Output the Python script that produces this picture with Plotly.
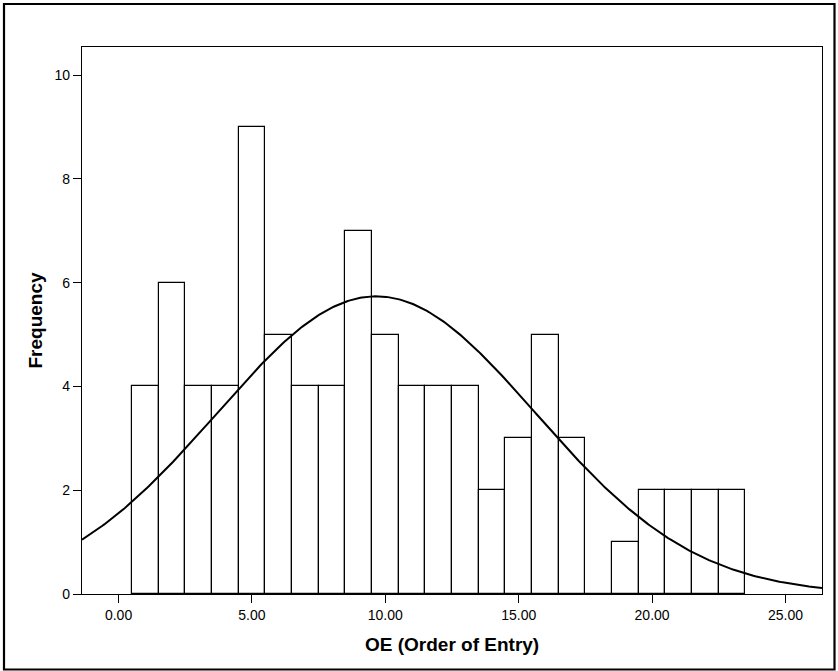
import numpy as np
import plotly.graph_objects as go

# Histogram data (bin centers, width 1)
bin_centers = list(range(1, 24))
counts = [4, 6, 4, 4, 9, 5, 4, 4, 7, 5, 4, 4, 4, 2, 3, 5, 3, 0, 1, 2, 2, 2, 2]
x_tick_vals = [0, 5, 10, 15, 20, 25]
x_tick_text = ["0.00", "5.00", "10.00", "15.00", "20.00", "25.00"]
y_tick_vals = [0, 2, 4, 6, 8, 10]
y_tick_text = ["0", "2", "4", "6", "8", "10"]
x_title = "OE (Order of Entry)"
y_title = "Frequency"

# Normal curve parameters derived from the histogram data
c = np.array(counts, dtype=float)
xc = np.array(bin_centers, dtype=float)
n_total = c.sum()
mean = (c * xc).sum() / n_total
sd = np.sqrt(((c * (xc - mean) ** 2).sum()) / (n_total - 1))
bin_width = 1.0

x_range = [-1.37, 26.37]
curve_x = np.linspace(x_range[0], x_range[1], 400)
curve_y = n_total * bin_width / (sd * np.sqrt(2 * np.pi)) * np.exp(-0.5 * ((curve_x - mean) / sd) ** 2)

fig = go.Figure()
fig.add_trace(go.Bar(
    x=bin_centers, y=counts, width=bin_width,
    marker=dict(color="white", line=dict(color="black", width=1.2)),
    showlegend=False, hoverinfo="x+y",
))
fig.add_trace(go.Scatter(
    x=curve_x, y=curve_y, mode="lines",
    line=dict(color="black", width=2), showlegend=False, hoverinfo="skip",
))

font_family = "Liberation Sans, Arial, sans-serif"
fig.update_layout(
    width=838, height=671,
    margin=dict(l=82, r=16, t=47, b=77),
    paper_bgcolor="white", plot_bgcolor="white",
    font=dict(family=font_family, color="black", size=14),
    bargap=0,
    xaxis=dict(
        range=x_range, tickvals=x_tick_vals, ticktext=x_tick_text,
        ticks="outside", ticklen=8, tickwidth=1.2, tickcolor="black",
        showline=True, linecolor="black", linewidth=1.2, mirror=True,
        showgrid=False, zeroline=False,
        tickfont=dict(size=14),
    ),
    yaxis=dict(
        range=[0, 10.54], tickvals=y_tick_vals, ticktext=y_tick_text,
        ticks="outside", ticklen=8, tickwidth=1.2, tickcolor="black",
        showline=True, linecolor="black", linewidth=1.2, mirror=True,
        showgrid=False, zeroline=False,
        tickfont=dict(size=14),
    ),
    annotations=[
        dict(text="<b>%s</b>" % x_title, xref="paper", yref="paper",
             x=0.5, y=(594 - 644) / 547, xanchor="center", yanchor="middle",
             showarrow=False, font=dict(size=19, family=font_family)),
        dict(text="<b>%s</b>" % y_title, xref="paper", yref="paper",
             x=(35 - 82) / 740, y=0.5, xanchor="center", yanchor="middle",
             textangle=-90, showarrow=False, font=dict(size=19, family=font_family)),
    ],
    shapes=[
        dict(type="rect", xref="paper", yref="paper",
             x0=(4 - 82) / 740, x1=(834.5 - 82) / 740,
             y0=(594 - 669.5) / 547, y1=(594 - 4) / 547,
             line=dict(color="black", width=2.2), fillcolor="rgba(0,0,0,0)",
             layer="above"),
    ],
)

fig.write_html("out.html")
